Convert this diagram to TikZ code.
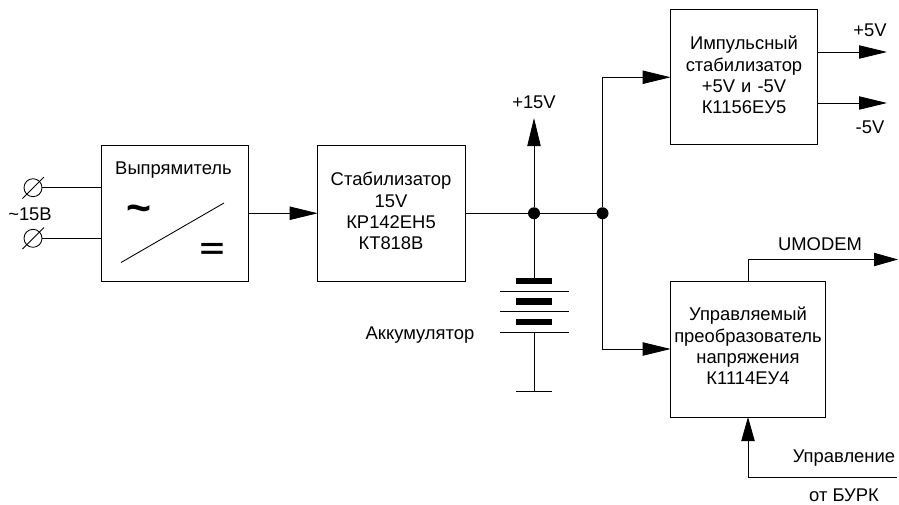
\documentclass[tikz,border=0pt]{standalone}
\usepackage{graphicx}
\usepackage{fontspec}
\setmainfont{Liberation Sans}
\usetikzlibrary{arrows.meta}
\tikzset{
  x=0.75pt,y=-0.75pt,
  every node/.style={font=\fontsize{13.8}{15.9}\selectfont,inner sep=0pt,outer sep=0pt},
  wire/.style={draw=black,line width=0.65pt},
  arrowwire/.style={wire,-{Triangle[length=21pt,width=10pt]}},
  shortarrow/.style={wire,-{Triangle[length=18pt,width=10pt]}},
  blockbox/.style={draw=black,line width=0.65pt,rectangle,align=center},
  lbl/.style={align=center},
  terminal/.style={circle,draw=black,line width=0.65pt,minimum size=13.5pt},
  junction/.style={circle,fill=black,minimum size=9pt},
  plate/.style={rectangle,fill=black,minimum width=27.5pt,minimum height=4.8pt},
  thinplate/.style={wire},
}
\begin{document}
\begin{tikzpicture}
\useasboundingbox (0,0) rectangle (899,504);
% blocks
\node[blockbox,minimum width=110.5pt,minimum height=102pt] (rect) at (175.25,213.25) {};
\node[blockbox,minimum width=111pt,minimum height=102pt] (stab) at (391.7,213.25) {};
\node[blockbox,minimum width=110.5pt,minimum height=101.5pt] (imp) at (744.25,77.25) {};
\node[blockbox,minimum width=116pt,minimum height=102pt] (upr) at (748,349) {};
% block text
\node[lbl] (rectt) at (173.5,170) {Выпрямитель};
\node[lbl,font=\fontsize{32}{32}\selectfont\bfseries] (tilde) at (138.5,214) {\char`\~};
\node[lbl,font=\fontsize{32}{32}\selectfont\bfseries] (eqs) at (212,251) {\scalebox{1}[0.68]{=}};
\node[lbl,text width=110pt] (stabt) at (391,211) {Стабилизатор\\15V\\КР142ЕН5\\КТ818В};
\node[lbl,text width=110pt] (impt) at (744,75) {Импульсный\\стабилизатор\\+5V и -5V\\К1156ЕУ5};
\node[lbl,text width=116pt] (uprt) at (748,346) {Управляемый\\преобразователь\\напряжения\\К1114ЕУ4};
% rectifier diagonal
\coordinate (dg1) at (121,262.5);
\coordinate (dg2) at (224,203);
\draw[wire] (dg1) -- (dg2);
% terminals
\node[terminal] (t1) at (33,187.7) {};
\node[terminal] (t2) at (33,238.3) {};
\coordinate (s1a) at (22.5,198.5); \coordinate (s1b) at (44,177);
\coordinate (s2a) at (22.5,249); \coordinate (s2b) at (44,227.5);
\draw[wire] (s1a) -- (s1b);
\draw[wire] (s2a) -- (s2b);
\draw[wire] (t1.east) -- (rect.west |- t1.east);
\draw[wire] (t2.east) -- (rect.west |- t2.east);
\node[lbl] (ac) at (30,214) {\textasciitilde 15В};
% main bus
\node[junction] (j1) at (534,213.25) {};
\node[junction] (j2) at (602.5,213.25) {};
\draw[arrowwire] (rect.east) -- (stab.west);
\draw[wire] (stab.east) -- (j1);
\draw[wire] (j1) -- (j2);
% +15V
\coordinate (up) at (534,118);
\draw[arrowwire] (j1) -- (up);
\node[lbl] (p15) at (534,102) {+15V};
% battery
\node[plate] (b1) at (534,281) {};
\node[plate] (b2) at (534,301.5) {};
\node[plate] (b3) at (534,322) {};
\coordinate (l1a) at (499.5,291.3); \coordinate (l1b) at (568.5,291.3);
\coordinate (l2a) at (499.5,311.7); \coordinate (l2b) at (568.5,311.7);
\coordinate (l3a) at (499.5,332); \coordinate (l3b) at (568.5,332);
\draw[thinplate] (l1a) -- (l1b);
\draw[thinplate] (l2a) -- (l2b);
\draw[thinplate] (l3a) -- (l3b);
\draw[wire] (j1) -- (b1);
\coordinate (gnd) at (534,391);
\coordinate (g1) at (516,391); \coordinate (g2) at (552,391);
\draw[wire] (534,332) -- (gnd);
\draw[wire] (g1) -- (g2);
\node[lbl] (akk) at (420,335) {Аккумулятор};
% branches
\draw[arrowwire] (j2) |- (imp.west);
\draw[arrowwire] (j2) |- (upr.west);
% outputs of top block
\coordinate (o1) at (887,52);
\coordinate (o2) at (887,103);
\draw[arrowwire] (imp.east |- o1) -- (o1);
\draw[arrowwire] (imp.east |- o2) -- (o2);
\node[lbl] (p5) at (870,30) {+5V};
\node[lbl] (m5) at (870,127) {-5V};
% UMODEM
\coordinate (um) at (898,259.5);
\draw[shortarrow] (upr.north) |- (um);
\node[lbl] (umt) at (820,244) {UMODEM};
% control
\coordinate (ctl) at (897,477);
\draw[shortarrow] (ctl) -| (upr.south);
\node[lbl] (ctlt) at (844,458) {Управление};
\node[lbl] (burk) at (844,495.5) {от БУРК};
\end{tikzpicture}
\end{document}
